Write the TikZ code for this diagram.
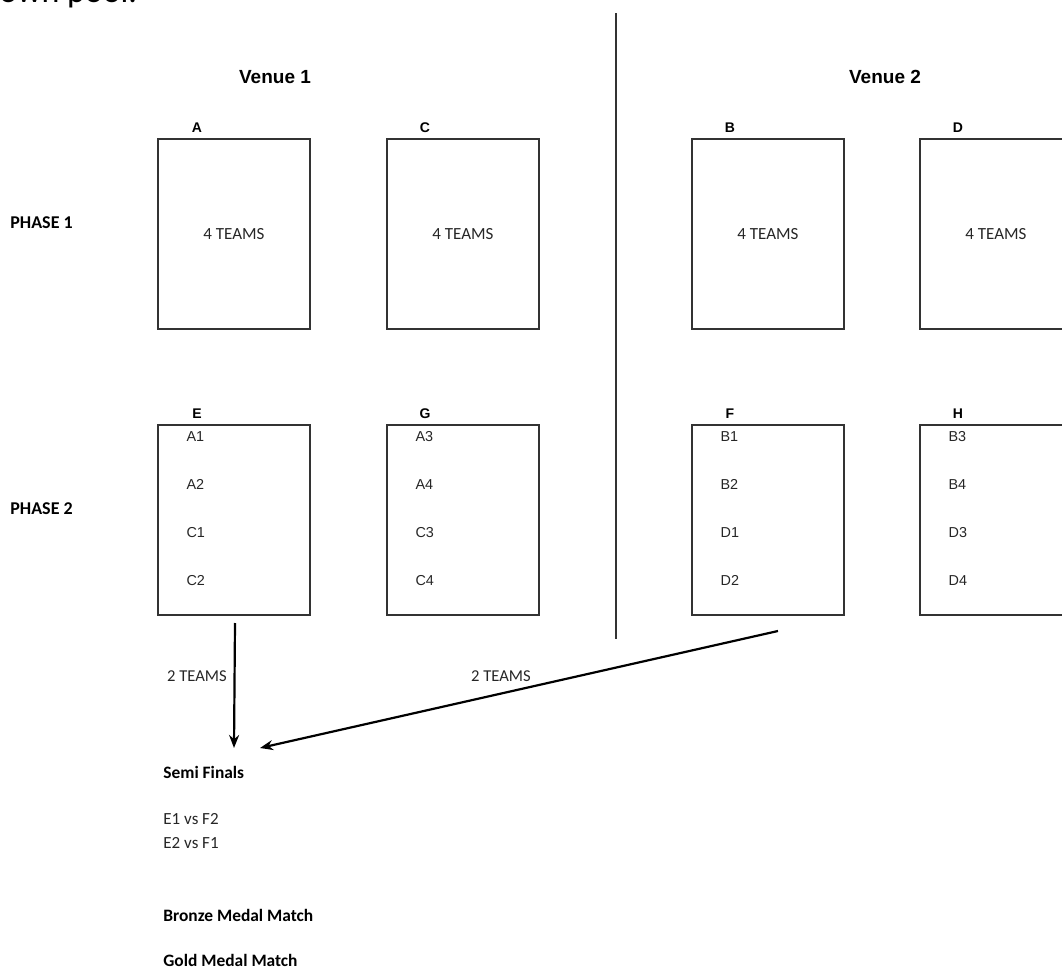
\documentclass[tikz,border=0pt]{standalone}
\usepackage{fontspec}
\setmainfont{Carlito}
\newfontfamily\arialfont{Liberation Sans}
\usetikzlibrary{arrows.meta}

\begin{document}
\begin{tikzpicture}[x=0.5pt, y=-0.5pt,
  pool/.style={draw=black!80, line width=0.8pt, minimum width=76pt, minimum height=95pt, inner sep=0pt, font=\fontsize{8.5}{10}\selectfont, text=black!85},
  poolname/.style={font=\arialfont\bfseries\fontsize{7}{8}\selectfont, inner sep=0pt},
  seed/.style={anchor=west, inner sep=0pt, font=\arialfont\fontsize{7.2}{8}\selectfont, text=black!85},
  heading/.style={font=\arialfont\bfseries\fontsize{9.5}{11}\selectfont, inner sep=0pt},
  phase/.style={anchor=west, inner sep=0pt, font=\bfseries\fontsize{9}{10}\selectfont},
  stage/.style={anchor=west, inner sep=0pt, font=\bfseries\fontsize{8.7}{10}\selectfont},
  pairing/.style={anchor=west, inner sep=0pt, font=\fontsize{8.5}{10}\selectfont, text=black!85},
  count/.style={inner sep=0pt, font=\fontsize{8.3}{10}\selectfont, text=black!85},
  feed/.style={line width=1.1pt, -{Stealth[length=6.5pt, width=5pt]}}]
\useasboundingbox (0,0) rectangle (1062,969);

% text cut off at the top of the page
\node[anchor=base west, inner sep=0pt, font=\fontsize{17}{20}\selectfont] (pooltext) at (-1,3) {own pool.};

% venues and divider
\node[heading] (V1) at (275,77) {Venue 1};
\node[heading] (V2) at (885,77) {Venue 2};
\coordinate (divtop) at (616,13);
\coordinate (divbot) at (616,639);
\draw[black!80, line width=1pt] (divtop) -- (divbot);

\node[phase] (P1) at (10,223) {PHASE 1};
\node[phase] (P2) at (10,509) {PHASE 2};

% phase 1 pools
\node[pool] (A) at (234,234) {4 TEAMS};
\node[pool] (C) at (463,234) {4 TEAMS};
\node[pool] (B) at (768,234) {4 TEAMS};
\node[pool] (D) at (996,234) {4 TEAMS};
\node[poolname] (lA) at (197,128) {A};
\node[poolname] (lC) at (425,128) {C};
\node[poolname] (lB) at (730,128) {B};
\node[poolname] (lD) at (958,128) {D};

% phase 2 pools
\node[pool] (E) at (234,520) {};
\node[pool] (G) at (463,520) {};
\node[pool] (F) at (768,520) {};
\node[pool] (H) at (996,520) {};
\node[poolname] (lE) at (197,414) {E};
\node[poolname] (lG) at (425,414) {G};
\node[poolname] (lF) at (730,414) {F};
\node[poolname] (lH) at (958,414) {H};
\foreach \p/\a/\b/\c/\d in {E/A1/A2/C1/C2, G/A3/A4/C3/C4, F/B1/B2/D1/D2, H/B3/B4/D3/D4} {
  \node[seed] (\p1) at ([xshift=14.5pt, yshift=-6pt]\p.north west) {\a};
  \node[seed] (\p2) at ([xshift=14.5pt, yshift=-30pt]\p.north west) {\b};
  \node[seed] (\p3) at ([xshift=14.5pt, yshift=-54pt]\p.north west) {\c};
  \node[seed] (\p4) at ([xshift=14.5pt, yshift=-78pt]\p.north west) {\d};
}

% finals
\node[stage] (semi) at (163,772) {Semi Finals};
\node[pairing] (sf1) at (163,819) {E1 vs F2};
\node[pairing] (sf2) at (163,843) {E2 vs F1};
\node[stage] (bronze) at (163,915) {Bronze Medal Match};
\node[stage] (gold) at (163,960) {Gold Medal Match};

\coordinate (outE) at (235,623);
\coordinate (outF) at (778,631);
\coordinate (inE) at (234,748);
\coordinate (inF) at (260,748);
\draw[feed] (outE) -- (inE);
\draw[feed] (outF) -- (inF);
\node[count] (tE) at (197,676) {2 TEAMS};
\node[count] (tF) at (501,676) {2 TEAMS};
\end{tikzpicture}
\end{document}
